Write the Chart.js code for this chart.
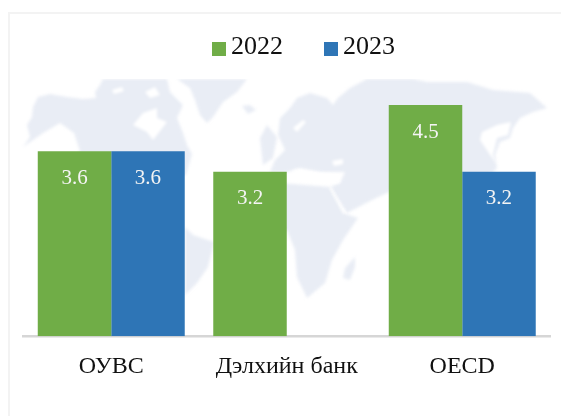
<!DOCTYPE html>
<html>
<head>
<meta charset="utf-8">
<script src="https://cdn.jsdelivr.net/npm/chart.js@4"></script>
<style>
  html, body { margin: 0; padding: 0; background: #fff; }
  #wrap { position: relative; width: 561px; height: 416px; overflow: hidden; }
  #frame { position: absolute; left: 8px; top: 12px; width: 560px; height: 410px;
           border: 2px solid #f3f3f3; box-sizing: border-box; }
  #legend { position: absolute; top: 29px; left: 0; width: 561px; height: 34px;
            font: 26px "Liberation Serif", serif; color: #111; }
  #legend span { position: absolute; top: 0; line-height: 34px; }
  #legend i { position: absolute; top: 13px; width: 14px; height: 14px; }
  canvas { position: absolute; left: 0; top: 0; }
</style>
</head>
<body>
<div id="wrap">
  <div id="frame"></div>
  <canvas id="chart" width="561" height="416"></canvas>
  <div id="legend"></div>
</div>
<script>
const categories = ['ОУВС', 'Дэлхийн банк', 'OECD'];
const values2022 = [3.6, 3.2, 4.5];
const values2023 = [3.6, null, 3.2];
const green = '#70ad47';
const blue = '#2e75b6';

// backdrop map, rough outlines only
const land = [
  [[23,147],[30,137],[27,125],[32,117],[33,107],[38,97],[50,94],[67,97],[83,99],[96,98],[95,92],[100,85],[103,79],[167,79],[170,92],[183,105],[177,118],[183,133],[187,145],[192,154],[186,175],[60,175],[80,151],[74,133],[60,123],[43,133]],
  [[177,79],[247,79],[237,92],[223,102],[213,117],[207,123],[200,115],[195,100],[190,88]],
  [[242,106],[250,105],[256,110],[248,114]],
  [[260,138],[267,125],[277,137],[273,158],[263,165]],
  [[185,227],[193,235],[214,242],[208,267],[197,283],[185,295]],
  [[280,118],[290,108],[297,98],[310,93],[327,98],[333,105],[338,98],[350,88],[367,79],[413,79],[427,82],[467,82],[493,90],[530,93],[547,108],[533,112],[520,118],[513,128],[510,138],[500,142],[495,155],[497,168],[485,180],[460,200],[389,192],[372,200],[347,213],[330,187],[340,183],[345,172],[320,172],[300,168],[287,172],[270,172],[275,160],[285,150],[278,135]],
  [[280,183],[330,187],[343,213],[358,218],[343,240],[332,260],[325,283],[307,298],[297,277],[295,250],[287,230],[280,230]],
  [[355,257],[355,267],[350,280],[343,278],[345,268]]
];
const holes = [
  [[133,125],[143,113],[157,108],[157,118],[167,122],[153,140],[147,132]],
  [[112,90],[122,87],[124,91],[114,94]],
  [[145,92],[155,87],[160,95],[150,98]],
  [[293,128],[303,120],[306,122],[297,132]],
  [[293,170],[310,172],[337,175],[340,183],[320,181],[296,178]],
  [[332,161],[343,159],[343,164],[334,166]],
  [[329,187],[331,187],[345,213],[344,213]],
  [[482,132],[497,125],[511,122],[508,135],[497,138],[493,155],[497,165],[480,140]]
];

const mapBackdrop = {
  id: 'mapBackdrop',
  beforeDraw(chart) {
    const c = chart.ctx;
    const poly = (pts, col) => {
      c.fillStyle = col;
      c.beginPath();
      pts.forEach((p, i) => i ? c.lineTo(p[0], p[1]) : c.moveTo(p[0], p[1]));
      c.closePath();
      c.fill();
    };
    c.save();
    c.filter = 'blur(1.5px)';
    land.forEach(p => poly(p, '#e9edf5'));
    holes.forEach(p => poly(p, '#ffffff'));
    c.restore();
    // flat cut along the top of the map
    c.fillStyle = '#ffffff';
    c.fillRect(15, 66, 540, 13);
  }
};

const barLabels = {
  id: 'barLabels',
  afterDatasetsDraw(chart) {
    const c = chart.ctx;
    c.save();
    c.font = '21px "Liberation Serif", serif';
    c.fillStyle = '#f4f4f4';
    c.textAlign = 'center';
    c.textBaseline = 'middle';
    chart.data.datasets.forEach((ds, i) => {
      chart.getDatasetMeta(i).data.forEach((bar, j) => {
        if (ds.data[j] == null) return;
        c.fillText(ds.data[j].toFixed(1), bar.x, bar.y + 27);
      });
    });
    c.restore();
  }
};

const chart = new Chart('chart', {
  type: 'bar',
  data: {
    labels: categories,
    datasets: [
      { label: '2022', data: values2022, backgroundColor: green },
      { label: '2023', data: values2023, backgroundColor: blue }
    ]
  },
  options: {
    responsive: false,
    animation: false,
    categoryPercentage: 0.8375,
    barPercentage: 1,
    layout: { padding: { left: 23.5, right: 11, top: 105, bottom: 19 } },
    plugins: { legend: { display: false }, tooltip: { enabled: false } },
    scales: {
      x: {
        grid: { display: false, drawTicks: false },
        border: { color: '#d6d6d6', width: 2.5 },
        ticks: { color: '#111', font: { family: '"Liberation Serif", serif', size: 24 }, padding: 16, maxRotation: 0 }
      },
      y: {
        display: false,
        min: 0,
        max: 4.5
      }
    }
  },
  plugins: [mapBackdrop, barLabels]
});

// html legend so the swatch sits tight against the year
const legend = document.getElementById('legend');
[[212, 231], [324, 343]].forEach((pos, i) => {
  const ds = chart.data.datasets[i];
  const box = document.createElement('i');
  box.style.left = pos[0] + 'px';
  box.style.background = ds.backgroundColor;
  const txt = document.createElement('span');
  txt.style.left = pos[1] + 'px';
  txt.textContent = ds.label;
  legend.append(box, txt);
});
</script>
</body>
</html>
